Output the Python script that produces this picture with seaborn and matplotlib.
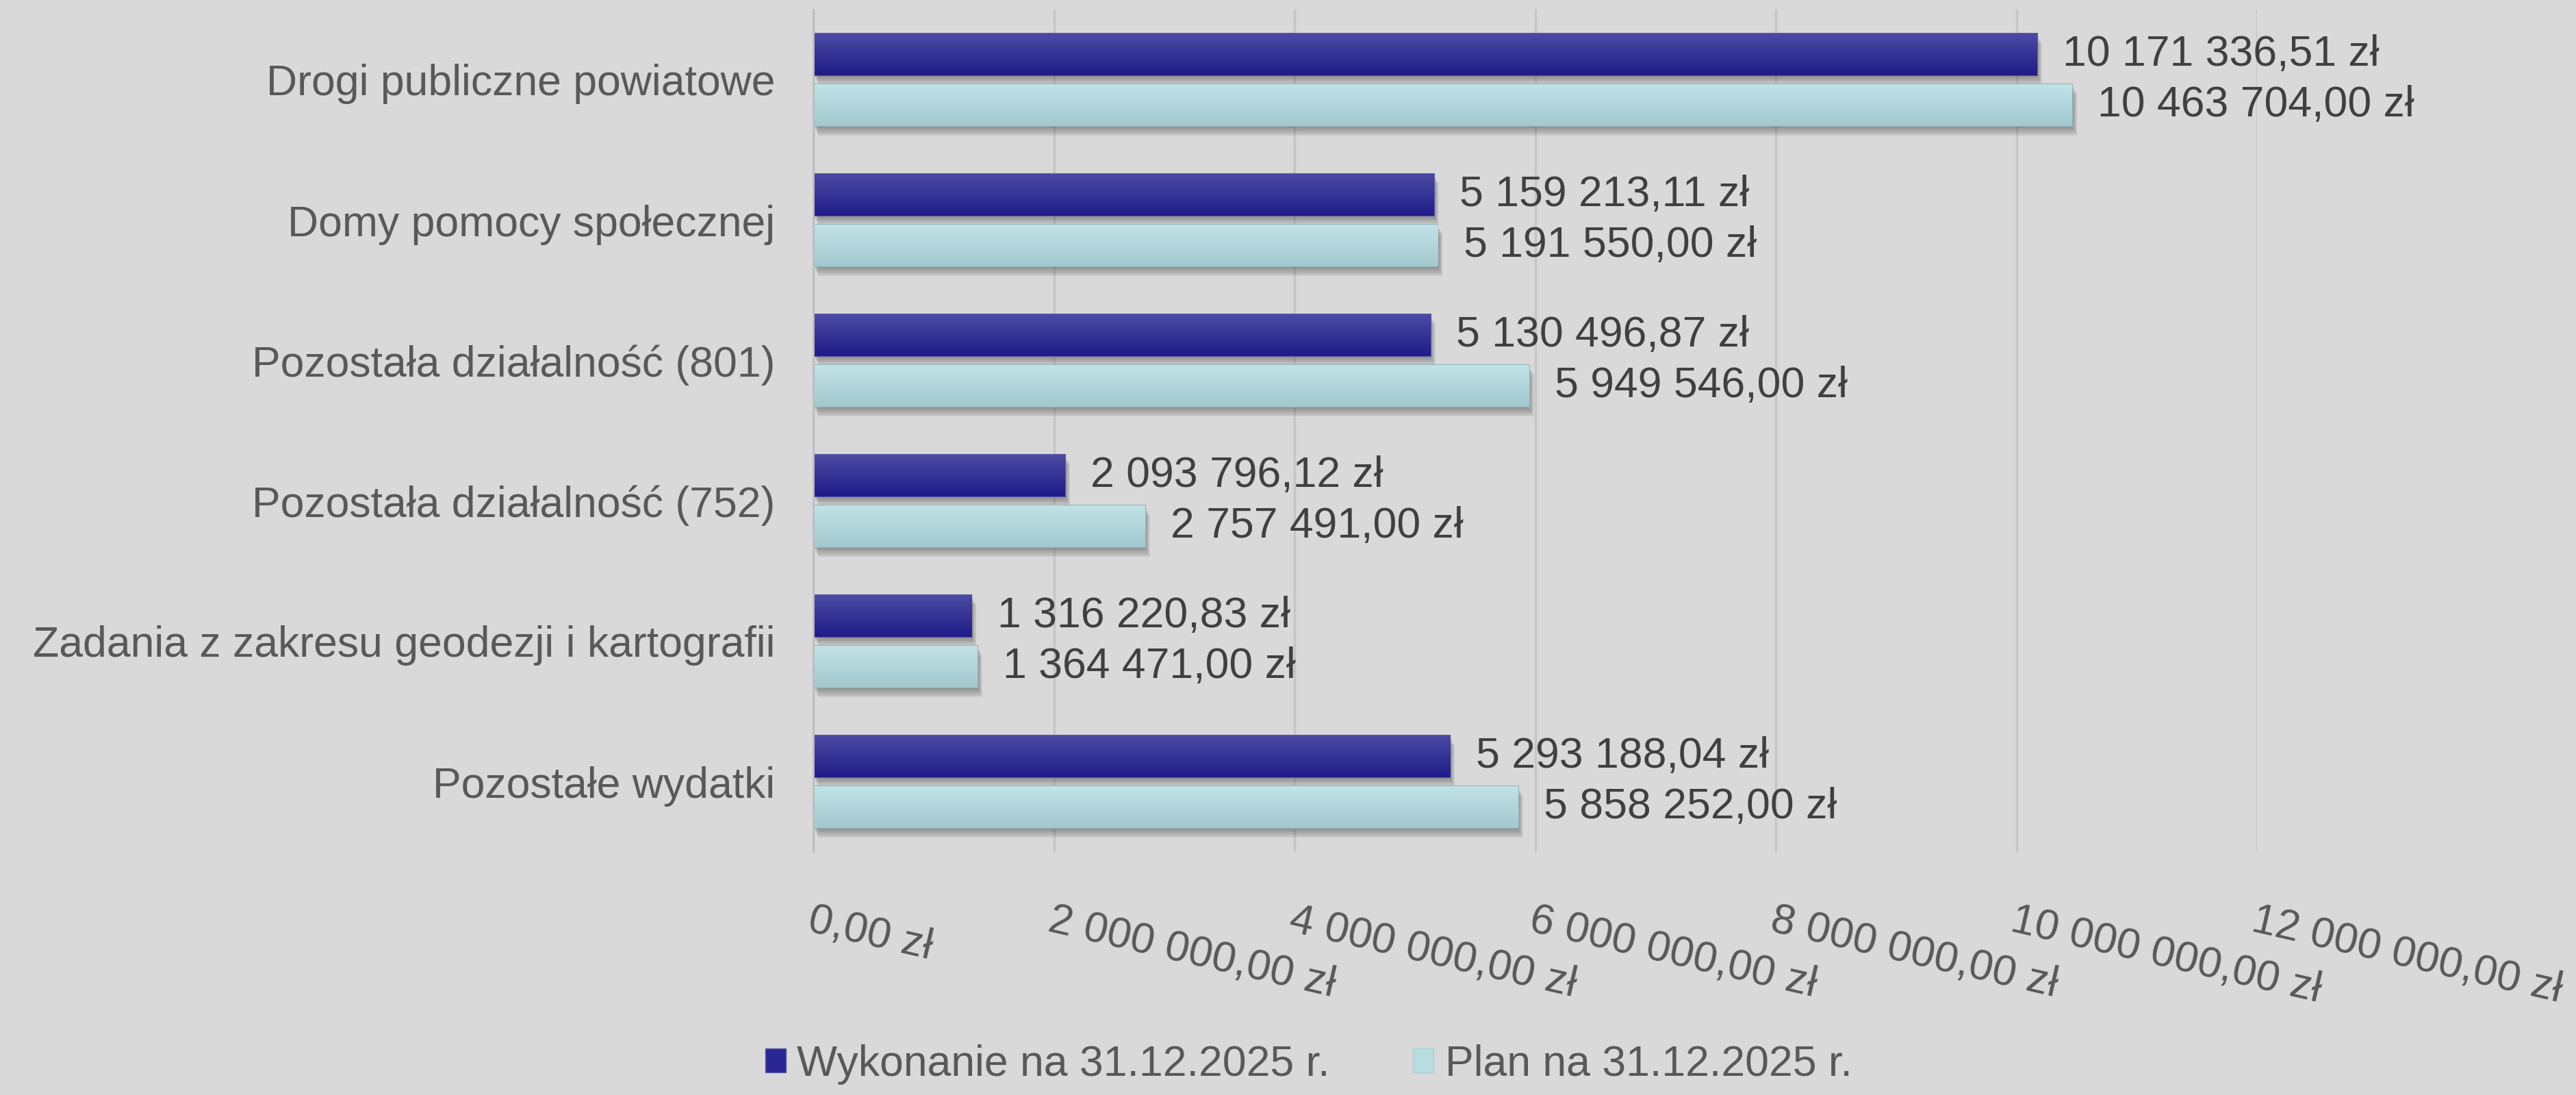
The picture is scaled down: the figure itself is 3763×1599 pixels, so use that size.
import numpy as np
import pandas as pd
import matplotlib
import seaborn as sns

# Force headless mode
matplotlib.use("Agg")
import matplotlib.pyplot as plt
import matplotlib.patches as mpatches
import matplotlib.patheffects as pe
from matplotlib.colors import to_rgb

# --- Data ---
categories = [
    "Drogi publiczne powiatowe",
    "Domy pomocy społecznej",
    "Pozostała działalność (801)",
    "Pozostała działalność (752)",
    "Zadania z zakresu geodezji i kartografii",
    "Pozostałe wydatki",
]
wykonanie = [10171336.51, 5159213.11, 5130496.87, 2093796.12, 1316220.83, 5293188.04]
plan = [10463704.00, 5191550.00, 5949546.00, 2757491.00, 1364471.00, 5858252.00]
series = ["Wykonanie na 31.12.2025 r.", "Plan na 31.12.2025 r."]
xticks = [0, 2000000, 4000000, 6000000, 8000000, 10000000, 12000000]

BG = "#d9d9d9"
DARK = "#2a2795"
LIGHT = "#b7dde1"
TXT = "#595959"


def zl(v):
    # Polish currency format: space for thousands, comma for decimals
    s = f"{v:,.2f}".replace(",", " ").replace(".", ",")
    return s + " zł"


df = pd.DataFrame({
    "category": categories * 2,
    "value": wykonanie + plan,
    "series": [series[0]] * len(categories) + [series[1]] * len(categories),
})

sns.set_style("white", {"axes.facecolor": BG, "figure.facecolor": BG})
plt.rcParams["font.family"] = ["Liberation Sans", "DejaVu Sans"]

fig = plt.figure(figsize=(37.63, 15.99), dpi=100, facecolor=BG)
ax = fig.add_axes([1188 / 3763, 355 / 1599, (3297 - 1188) / 3763, (1244 - 14) / 1599])

sns.barplot(
    data=df, x="value", y="category", hue="series", hue_order=series,
    palette=[DARK, LIGHT], orient="h", width=0.726, gap=0.174,
    saturation=1, errorbar=None, legend=False, ax=ax,
)

# vertical gradient + soft drop shadow on every bar
gradients = [("#4c4ca4", "#1f1b89", "#5a5aa8"), ("#c2e3e7", "#a1c9ce", "#8fb2b7")]
soft_shadow = [
    pe.SimplePatchShadow(offset=(o, -2 * o), shadow_rgbFace="black", alpha=0.07)
    for o in (1, 2, 3, 4, 5)
] + [pe.Normal()]
for cont, (top, bot, edge) in zip(ax.containers, gradients):
    arr = np.linspace(to_rgb(top), to_rgb(bot), 64)[:, None, :]
    for p in cont.patches:
        p.set_edgecolor(edge)
        p.set_linewidth(1.5)
        p.set_path_effects(soft_shadow)
        x0, y0, w, h = p.get_x(), p.get_y(), p.get_width(), p.get_height()
        im = ax.imshow(arr, extent=(x0, x0 + w, y0 + h, y0), origin="upper",
                       aspect="auto", interpolation="bilinear",
                       zorder=p.get_zorder() + 0.01)
        im.set_clip_path(p)

ax.set_xlim(0, 12000000)
ax.set_ylim(len(categories) - 0.5, -0.5)

# value labels
for cont, vals in zip(ax.containers, [wykonanie, plan]):
    ax.bar_label(cont, labels=[zl(v) for v in vals], padding=27,
                 fontsize=45, color="#404040")

# axes styling
ax.xaxis.grid(True, color="#c6c6c6", linewidth=2.5)
ax.set_axisbelow(True)
for side in ["top", "right", "bottom"]:
    ax.spines[side].set_visible(False)
ax.spines["left"].set_color("#bdbdbd")
ax.spines["left"].set_linewidth(2)

ax.set_xticks(xticks)
ax.set_xticklabels([zl(v) for v in xticks], rotation=-13, ha="left",
                   va="top", rotation_mode="anchor")
ax.tick_params(axis="x", length=0, pad=51, labelsize=45, labelcolor=TXT)
ax.tick_params(axis="y", length=0, pad=40, labelsize=45, labelcolor=TXT)
ax.set_xlabel("")
ax.set_ylabel("")

handles = [mpatches.Patch(facecolor=DARK, edgecolor="#5a5aa8"),
           mpatches.Patch(facecolor=LIGHT, edgecolor="#a9cfd4")]
fig.legend(handles, series, loc="center", bbox_to_anchor=(0.508, 0.028),
           ncol=2, frameon=False, fontsize=45, handlelength=0.48,
           handleheight=0.5, handletextpad=0.26, columnspacing=1.95,
           labelcolor=TXT)

fig.savefig("out.png", dpi=100, facecolor=BG)
plt.close()
